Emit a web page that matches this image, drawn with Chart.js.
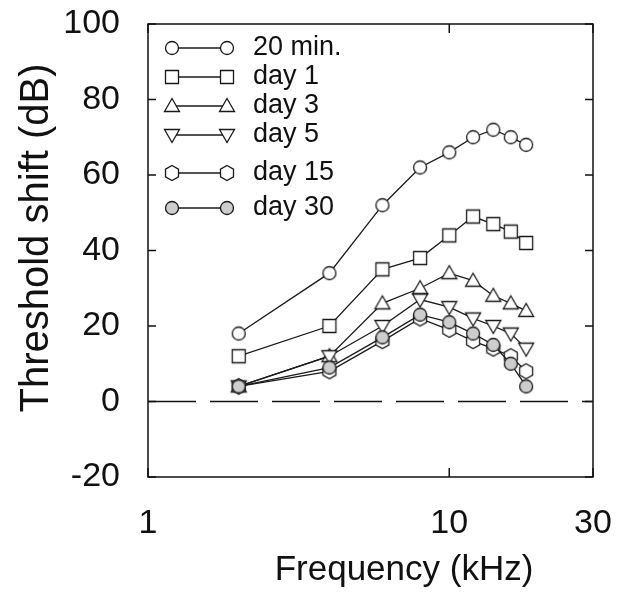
<!DOCTYPE html>
<html>
<head>
<meta charset="utf-8">
<script src="https://cdn.jsdelivr.net/npm/chart.js@4/dist/chart.umd.min.js"></script>
<style>
  html, body { margin: 0; padding: 0; background: #fff; }
</style>
</head>
<body>
<canvas id="chart" width="630" height="598"></canvas>
<script>
// frequencies (kHz) and threshold shifts (dB)
const freqs = [2, 4, 6, 8, 10, 12, 14, 16, 18];
const min20 = [18, 34, 52, 62, 66, 70, 72, 70, 68];
const day1 = [12, 20, 35, 38, 44, 49, 47, 45, 42];
const day3 = [4, 12, 26, 30, 34, 32, 28, 26, 24];
const day5 = [4, 12, 20, 27, 25, 22, 20, 18, 14];
const day15 = [4, 8, 16, 22, 19, 16, 14, 12, 8];
const day30 = [4, 9, 17, 23, 21, 18, 15, 10, 4];
const seriesNames = ['20 min.', 'day 1', 'day 3', 'day 5', 'day 15', 'day 30'];
const xTicks = [1, 10, 30];

// marker images (open symbols, last one grey filled)
function makeMarker(kind, fill) {
  const c = document.createElement('canvas');
  c.width = 22; c.height = 22;
  const g = c.getContext('2d');
  g.fillStyle = fill;
  g.strokeStyle = '#1a1a1a';
  g.lineWidth = 1.3;
  g.beginPath();
  if (kind === 'circle') {
    g.arc(11, 11, 6.5, 0, Math.PI * 2);
  } else if (kind === 'square') {
    g.rect(4.5, 4.5, 13, 13);
  } else if (kind === 'up') {
    g.moveTo(11, 3.5); g.lineTo(18.5, 16.5); g.lineTo(3.5, 16.5); g.closePath();
  } else if (kind === 'down') {
    g.moveTo(11, 18.5); g.lineTo(18.5, 5.5); g.lineTo(3.5, 5.5); g.closePath();
  } else if (kind === 'hex') {
    for (let k = 0; k < 6; k++) {
      const a = -Math.PI / 2 + k * Math.PI / 3;
      const px = 11 + 7.5 * Math.cos(a), py = 11 + 7.5 * Math.sin(a);
      if (k === 0) g.moveTo(px, py); else g.lineTo(px, py);
    }
    g.closePath();
  }
  g.fill();
  g.stroke();
  return c;
}

const markers = [
  makeMarker('circle', '#fff'),
  makeMarker('square', '#fff'),
  makeMarker('up', '#fff'),
  makeMarker('down', '#fff'),
  makeMarker('hex', '#fff'),
  makeMarker('circle', '#cdcdcd')
];

const allSeries = [min20, day1, day3, day5, day15, day30];

const datasets = allSeries.map((vals, i) => ({
  label: seriesNames[i],
  data: vals.map((v, j) => ({ x: freqs[j], y: v })),
  borderColor: '#1a1a1a',
  borderWidth: 1.3,
  pointStyle: markers[i],
  pointRadius: 7,
  pointHoverRadius: 7,
  tension: 0,
  order: allSeries.length - 1 - i
}));

const framePlugin = {
  id: 'frame',
  beforeDatasetsDraw(chart) {
    const { ctx, chartArea: a, scales: { x, y } } = chart;
    ctx.save();
    ctx.strokeStyle = '#111';
    ctx.lineWidth = 1.5;
    // dashed zero line
    const y0 = y.getPixelForValue(0);
    ctx.setLineDash([48, 14]);
    ctx.beginPath();
    ctx.moveTo(a.left, y0);
    ctx.lineTo(a.right, y0);
    ctx.stroke();
    ctx.setLineDash([]);
    // box
    ctx.strokeRect(a.left, a.top, a.right - a.left, a.bottom - a.top);
    // inner ticks
    ctx.beginPath();
    y.ticks.forEach(t => {
      const py = y.getPixelForValue(t.value);
      ctx.moveTo(a.left, py); ctx.lineTo(a.left + 8, py);
      ctx.moveTo(a.right, py); ctx.lineTo(a.right - 8, py);
    });
    x.ticks.forEach(t => {
      const px = x.getPixelForValue(t.value);
      ctx.moveTo(px, a.top); ctx.lineTo(px, a.top + 9);
      ctx.moveTo(px, a.bottom); ctx.lineTo(px, a.bottom - 9);
    });
    ctx.stroke();
    ctx.restore();
  },
  afterDraw(chart) {
    const { ctx } = chart;
    ctx.save();
    // legend: marker - line - marker, then label
    const rows = [48, 77, 106, 135, 173, 208];
    ctx.font = '27px "Liberation Sans", Arial, sans-serif';
    ctx.fillStyle = '#111';
    ctx.textBaseline = 'middle';
    ctx.textAlign = 'left';
    chart.data.datasets.forEach((ds, i) => {
      const ry = rows[i];
      ctx.strokeStyle = '#1a1a1a';
      ctx.lineWidth = 1.3;
      ctx.beginPath();
      ctx.moveTo(172, ry); ctx.lineTo(227, ry);
      ctx.stroke();
      const m = ds.pointStyle;
      ctx.drawImage(m, 172 - m.width / 2, ry - m.height / 2);
      ctx.drawImage(m, 227 - m.width / 2, ry - m.height / 2);
      ctx.fillText(ds.label, 253, ry);
    });
    // axis titles
    ctx.textAlign = 'center';
    ctx.font = '35px "Liberation Sans", Arial, sans-serif';
    ctx.fillText('Frequency (kHz)', 404, 570);
    ctx.translate(37, 238);
    ctx.rotate(-Math.PI / 2);
    ctx.font = '40px "Liberation Sans", Arial, sans-serif';
    ctx.fillText('Threshold shift (dB)', 0, 0);
    ctx.restore();
  }
};

const tickFont = { family: '"Liberation Sans", Arial, sans-serif', size: 34 };

new Chart(document.getElementById('chart'), {
  type: 'line',
  data: { datasets },
  options: {
    responsive: false,
    animation: false,
    devicePixelRatio: 1,
    layout: { padding: { top: 24, right: 37, left: 0, bottom: 0 } },
    plugins: { legend: { display: false }, tooltip: { enabled: false } },
    scales: {
      x: {
        type: 'logarithmic',
        min: 1,
        max: 30,
        afterBuildTicks: s => { s.ticks = xTicks.map(v => ({ value: v })); },
        afterFit: s => { s.height = 121; s.paddingLeft = 0; s.paddingRight = 0; },
        ticks: { color: '#111', font: tickFont, padding: 18, maxRotation: 0, autoSkip: false, callback: v => String(v) },
        grid: { display: false },
        border: { display: false }
      },
      y: {
        min: -20,
        max: 100,
        afterFit: s => { s.width = 148; s.paddingTop = 0; s.paddingBottom = 0; },
        ticks: { stepSize: 20, color: '#111', font: tickFont, padding: 20 },
        grid: { display: false },
        border: { display: false }
      }
    }
  },
  plugins: [framePlugin]
});
</script>
</body>
</html>
